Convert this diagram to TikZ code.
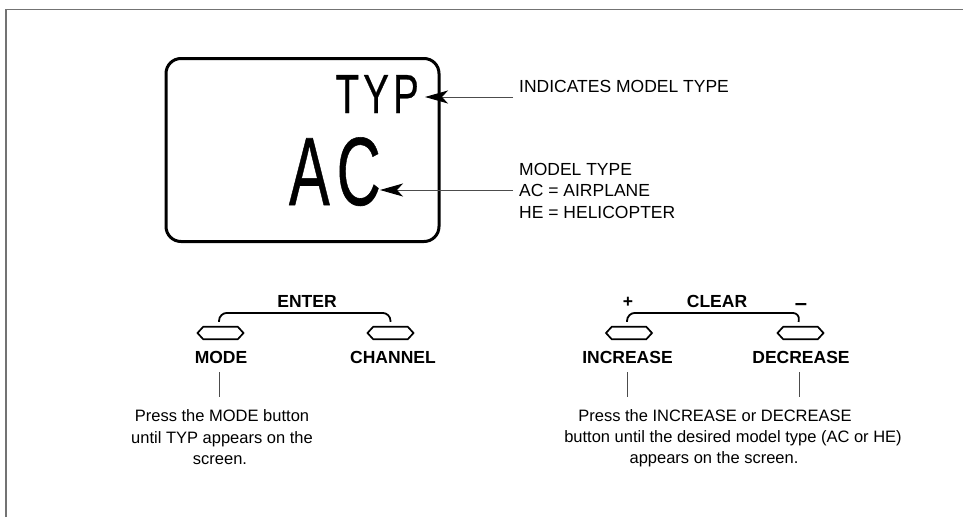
\documentclass[tikz,border=0pt]{standalone}
\usepackage{fontspec}
\setmainfont{Liberation Sans}
\usetikzlibrary{arrows.meta,shapes.symbols}
\begin{document}
\begin{tikzpicture}[x=1pt,y=-1pt,
  frame/.style={draw=black!55, line width=1.5pt},
  display/.style={draw=black, line width=3pt, rounded corners=15pt, minimum width=273pt, minimum height=183pt, inner sep=0pt},
  typtxt/.style={inner sep=0pt, font=\fontsize{55}{60}\selectfont\addfontfeature{FakeBold=0.6}},
  actxt/.style={inner sep=0pt, font=\fontsize{97}{100}\selectfont\addfontfeature{FakeBold=0.6}},
  note/.style={inner sep=0pt, font=\fontsize{17.5}{21.5}\selectfont, align=left},
  keylbl/.style={inner sep=0pt, font=\fontsize{17.5}{20}\selectfont\bfseries},
  instr/.style={inner sep=0pt, font=\fontsize{16.5}{20}\selectfont},
  button/.style={shape=signal, signal to=west and east, signal pointer angle=95, draw=black, line width=1.7pt, minimum width=46pt, minimum height=12.5pt, inner sep=0pt},
  bracket/.style={draw=black, line width=1.8pt, rounded corners=8pt},
  conn/.style={draw=black!70, line width=0.9pt},
  arr/.style={draw=black!70, line width=0.9pt, -{Stealth[length=23pt,width=13pt,inset=6pt,color=black]}}
]
\path[use as bounding box] (0,0) rectangle (963,517);
\draw[frame] (6,517) -- (6,9.5) -- (963,9.5);

% display
\node[display] (disp) at (302.5,150) {};
\node[typtxt, anchor=base east] (typ) at (419,113) {\scalebox{0.7}[1]{T\kern6pt Y\kern6pt P}};
\node[actxt, anchor=base east] (ac) at (381,205) {\scalebox{0.63}[1]{A\kern11pt C}};

% annotations
\node[note, anchor=base west] (ind) at (519,92) {INDICATES MODEL TYPE};
\node[note, anchor=north west] (mt) at (519,162.8) {MODEL TYPE\\AC = AIRPLANE\\HE = HELICOPTER};
\coordinate (a1) at (513,97);
\coordinate (a2) at (513,190);
\draw[arr] (a1) -- ([xshift=6pt]a1 -| typ.east);
\draw[arr] (a2) -- ([xshift=-1pt]a2 -| ac.east);

% left buttons
\node[keylbl, anchor=base] (enter) at (307,307) {ENTER};
\node[button] (bMode) at (220.5,333) {};
\node[button] (bChan) at (390.5,333) {};
\draw[bracket] ([xshift=-1.5pt,yshift=4pt]bMode.north) |- ([yshift=13pt]bChan.north) -- ([yshift=4pt]bChan.north);
\node[keylbl, anchor=base] (lMode) at (221,363) {MODE};
\node[keylbl, anchor=base] (lChan) at (393,363) {CHANNEL};
\node[instr, anchor=base] (pm1) at (222,421) {Press the MODE button};
\node[instr, anchor=base] (pm2) at (222,443) {until TYP appears on the};
\node[instr, anchor=base] (pm3) at (220,464) {screen.};
\draw[conn] ([xshift=-2pt,yshift=-9pt]lMode.base) -- ([xshift=-2pt,yshift=12pt]lMode.base |- pm1.north);

% right buttons
\node[keylbl, anchor=base] (clear) at (717,307) {CLEAR};
\node[keylbl, anchor=base] (plus) at (628,307) {+};
\node[keylbl, anchor=base, font=\fontsize{22}{24}\selectfont\bfseries] (minus) at (801,310) {\textendash};
\node[button] (bInc) at (629,333) {};
\node[button] (bDec) at (800.5,333) {};
\draw[bracket] ([xshift=-2pt,yshift=4pt]bInc.north) |- ([yshift=13pt]bDec.north) -- ([xshift=-2pt,yshift=4pt]bDec.north);
\node[keylbl, anchor=base] (lInc) at (627.5,363) {INCREASE};
\node[keylbl, anchor=base] (lDec) at (801,363) {DECREASE};
\node[instr, anchor=base] (pi1) at (715,421) {Press the INCREASE or DECREASE};
\node[instr, anchor=base] (pi2) at (733,442) {button until the desired model type (AC or HE)};
\node[instr, anchor=base] (pi3) at (714,463) {appears on the screen.};
\draw[conn] ([yshift=-9pt]lInc.base) -- ([yshift=12pt]lInc.base |- pi1.north);
\draw[conn] ([xshift=-2pt,yshift=-9pt]lDec.base) -- ([xshift=-2pt,yshift=12pt]lDec.base |- pi1.north);
\end{tikzpicture}
\end{document}
